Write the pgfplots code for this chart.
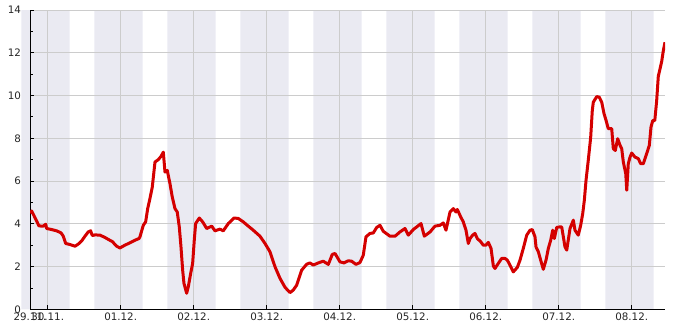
\documentclass[border=0pt]{standalone}
\usepackage{fontspec}
\setmainfont{DejaVu Sans}
\usepackage{pgfplots}
\pgfplotsset{compat=1.18}
\definecolor{band}{HTML}{EAEAF2}
\definecolor{gridc}{HTML}{CCCCCC}
\definecolor{linec}{HTML}{D40000}
\begin{document}
\begin{tikzpicture}
\begin{axis}[
 set layers,
 scale only axis, width=635pt, height=299.3pt,
 at={(0,0)}, anchor=south west,
 xmin=-0.242, xmax=8.456, ymin=0, ymax=14,
 axis lines*=left, axis line style={-, black, line width=0.8pt},
 xtick={-0.242,0,1,2,3,4,5,6,7,8},
 xticklabels={29.11.,30.11.,01.12.,02.12.,03.12.,04.12.,05.12.,06.12.,07.12.,08.12.},
 ytick={0,2,...,14}, minor ytick={1,3,...,13},
 grid=major, major grid style={gridc, line width=0.8pt},
 tick align=inside, major tick length=4pt, minor tick length=3.3pt,
 tick style={black, line width=0.8pt},
 ticklabel style={font=\fontsize{10.3}{12}\selectfont, text=black!85},
 yticklabel style={xshift=-5.5pt},
 /pgf/number format/assume math mode=true,
]
\addplot[fill=band, draw=none, on layer=axis background] coordinates {
(-0.36,0)(-0.36,14)(0.30,14)(0.30,0)
(0.64,0)(0.64,14)(1.30,14)(1.30,0)
(1.64,0)(1.64,14)(2.30,14)(2.30,0)
(2.64,0)(2.64,14)(3.30,14)(3.30,0)
(3.64,0)(3.64,14)(4.30,14)(4.30,0)
(4.64,0)(4.64,14)(5.30,14)(5.30,0)
(5.64,0)(5.64,14)(6.30,14)(6.30,0)
(6.64,0)(6.64,14)(7.30,14)(7.30,0)
(7.64,0)(7.64,14)(8.30,14)(8.30,0)
} \closedcycle;
\addplot[linec, line width=3pt, line join=round, mark=none] coordinates {
(-0.242,4.5)(-0.219,4.6)(-0.174,4.29)(-0.119,3.9)(-0.060,3.89)(-0.027,3.98)(-0.014,3.78)
(0.055,3.73)(0.123,3.67)(0.182,3.58)(0.214,3.42)(0.247,3.08)(0.305,3.03)(0.374,2.95)
(0.419,3.05)(0.466,3.2)(0.511,3.42)(0.556,3.62)(0.589,3.67)(0.611,3.45)(0.648,3.48)
(0.716,3.47)(0.785,3.36)(0.830,3.27)(0.885,3.17)(0.945,2.95)(0.990,2.87)(1.058,3.0)
(1.127,3.11)(1.195,3.23)(1.251,3.31)(1.264,3.39)(1.310,3.93)(1.342,4.09)(1.370,4.71)
(1.401,5.18)(1.433,5.72)(1.470,6.89)(1.515,7.0)(1.552,7.15)(1.584,7.35)(1.607,6.42)
(1.638,6.5)(1.675,5.88)(1.707,5.25)(1.744,4.71)(1.775,4.55)(1.803,3.85)(1.826,2.92)
(1.849,1.83)(1.867,1.21)(1.904,0.75)(1.926,1.05)(1.959,1.68)(1.986,2.15)(2.008,3.23)
(2.027,4.01)(2.077,4.27)(2.123,4.09)(2.178,3.78)(2.247,3.89)(2.292,3.67)(2.360,3.75)
(2.405,3.67)(2.474,4.01)(2.552,4.27)(2.611,4.25)(2.679,4.09)(2.748,3.89)(2.816,3.7)
(2.908,3.42)(2.977,3.08)(3.045,2.69)(3.114,1.99)(3.182,1.45)(3.251,1.03)(3.319,0.78)
(3.364,0.9)(3.411,1.13)(3.479,1.83)(3.548,2.11)(3.593,2.17)(3.638,2.07)(3.707,2.17)
(3.775,2.25)(3.844,2.1)(3.899,2.57)(3.936,2.61)(4.004,2.22)(4.059,2.17)(4.118,2.27)
(4.164,2.25)(4.223,2.1)(4.278,2.19)(4.323,2.53)(4.360,3.39)(4.415,3.55)(4.460,3.57)
(4.507,3.83)(4.552,3.93)(4.597,3.65)(4.689,3.42)(4.758,3.42)(4.826,3.62)(4.895,3.78)
(4.940,3.47)(5.008,3.73)(5.114,4.01)(5.159,3.42)(5.238,3.62)(5.305,3.89)(5.374,3.93)
(5.419,4.04)(5.456,3.70)(5.511,4.55)(5.556,4.71)(5.593,4.55)(5.611,4.67)(5.658,4.32)
(5.693,4.09)(5.730,3.70)(5.762,3.08)(5.785,3.31)(5.822,3.47)(5.853,3.55)(5.885,3.31)
(5.932,3.16)(5.967,3.0)(6.004,3.0)(6.036,3.13)(6.073,2.85)(6.105,2.02)(6.127,1.91)
(6.173,2.15)(6.219,2.38)(6.264,2.38)(6.296,2.3)(6.332,2.07)(6.378,1.75)(6.433,1.96)
(6.470,2.3)(6.515,2.85)(6.562,3.47)(6.607,3.70)(6.638,3.73)(6.675,3.39)(6.689,2.92)
(6.721,2.69)(6.753,2.30)(6.789,1.87)(6.826,2.30)(6.858,2.85)(6.890,3.23)(6.918,3.70)
(6.940,3.31)(6.973,3.83)(7.008,3.85)(7.041,3.85)(7.086,2.92)(7.110,2.77)(7.155,3.78)
(7.200,4.17)(7.223,3.70)(7.268,3.47)(7.301,3.93)(7.329,4.48)(7.351,5.10)(7.374,6.03)
(7.405,6.97)(7.438,8.05)(7.460,9.30)(7.474,9.69)(7.521,9.95)(7.556,9.92)(7.589,9.69)
(7.621,9.15)(7.649,8.83)(7.679,8.45)(7.726,8.45)(7.748,7.51)(7.775,7.43)(7.808,7.98)
(7.840,7.67)(7.863,7.51)(7.885,6.89)(7.918,6.35)(7.932,5.57)(7.953,6.81)(7.977,7.12)
(8.000,7.31)(8.045,7.12)(8.090,7.05)(8.123,6.81)(8.159,6.81)(8.205,7.28)(8.241,7.67)
(8.264,8.52)(8.288,8.83)(8.316,8.83)(8.342,9.77)(8.364,10.9)(8.388,11.25)(8.411,11.6)
(8.433,12.1)(8.456,12.49)
};
\end{axis}
\path (-30pt,-20.7pt) rectangle (655pt,309.3pt);
\end{tikzpicture}
\end{document}
